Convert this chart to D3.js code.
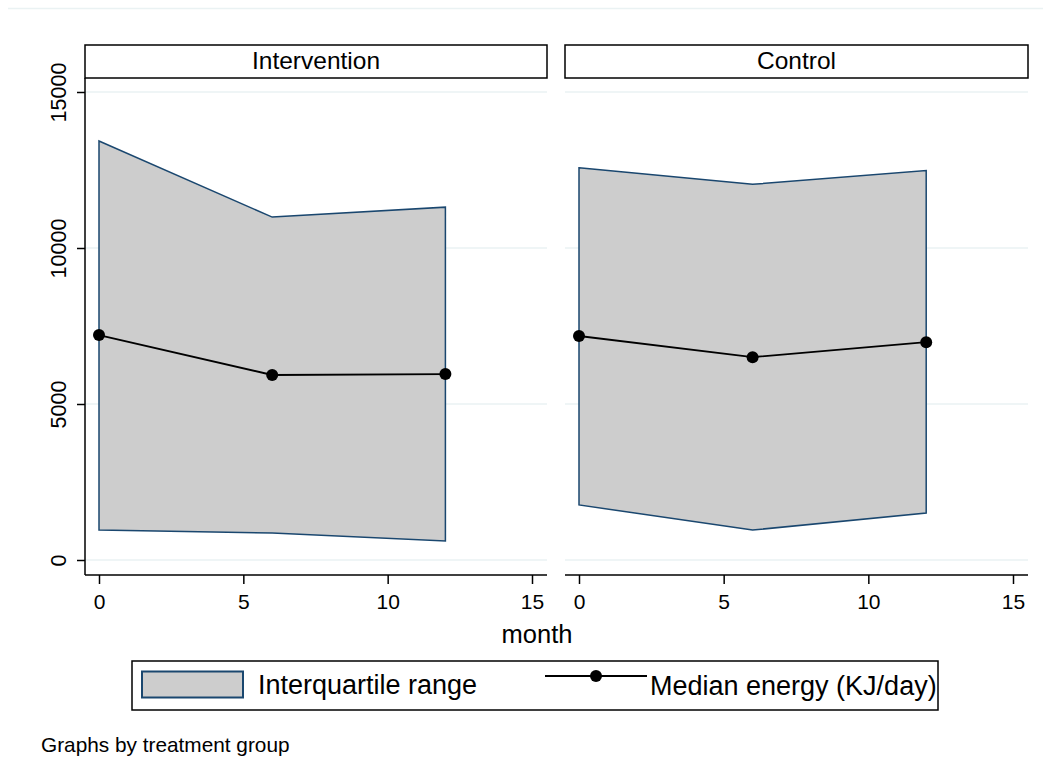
<!DOCTYPE html>
<html lang="en">
<head>
    <meta charset="UTF-8">
    <title>Energy intake by treatment group</title>
    <script src="https://d3js.org/d3.v7.min.js"></script>
    <style>
        body { margin: 0; background: #fff; }
        svg text { font-family: "Liberation Sans", Arial, Helvetica, sans-serif; fill: #000; }
    </style>
</head>
<body>
    <svg width="1051" height="771"></svg>

    <script>
        // data
        const months = [0, 6, 12];
        const groups = ["Intervention", "Control"];
        const xTicks = [0, 5, 10, 15];
        const yTicks = [0, 5000, 10000, 15000];

        const interventionP75 = [13430, 10990, 11310];
        const interventionP25 = [960, 865, 610];
        const interventionMedian = [7210, 5930, 5960];

        const controlP75 = [12570, 12040, 12480];
        const controlP25 = [1765, 960, 1505];
        const controlMedian = [7180, 6500, 6980];

        const legendLabels = ["Interquartile range", "Median energy (KJ/day)"];
        const xTitle = "month";
        const note = "Graphs by treatment group";

        const fillGrey = "#cdcdcd";
        const edgeBlue = "#1a476f";
        const gridCol = "#eaf2f3";

        const svg = d3.select("svg");

        // faint outer border line at the top
        svg.append("line")
            .attr("x1", 8).attr("x2", 1043)
            .attr("y1", 8.5).attr("y2", 8.5)
            .attr("stroke", gridCol).attr("stroke-width", 1.5);

        const y = d3.scaleLinear().domain([0, 15000]).range([560, 92]);

        const panels = [
            { name: groups[0], left: 85, right: 547, x0: 99, x15: 532,
              hi: interventionP75, lo: interventionP25, med: interventionMedian },
            { name: groups[1], left: 565, right: 1028, x0: 579, x15: 1013,
              hi: controlP75, lo: controlP25, med: controlMedian }
        ];

        panels.forEach((p, pi) => {
            const x = d3.scaleLinear().domain([0, 15]).range([p.x0, p.x15]);
            const g = svg.append("g");

            // grid lines
            g.selectAll(".grid")
                .data(yTicks)
                .enter().append("line")
                .attr("x1", p.left).attr("x2", p.right)
                .attr("y1", d => y(d)).attr("y2", d => y(d))
                .attr("stroke", gridCol).attr("stroke-width", 1.5);

            // IQR polygon
            const pts = months.map((m, i) => [x(m), y(p.hi[i])])
                .concat(months.map((m, i) => [x(m), y(p.lo[i])]).reverse());
            g.append("path")
                .attr("d", d3.line()(pts) + "Z")
                .attr("fill", fillGrey)
                .attr("stroke", edgeBlue)
                .attr("stroke-width", 1.5)
                .attr("stroke-linejoin", "miter");

            // median line + markers
            const medPts = months.map((m, i) => ({ m: m, v: p.med[i] }));
            g.append("path")
                .datum(medPts)
                .attr("fill", "none")
                .attr("stroke", "#000")
                .attr("stroke-width", 1.8)
                .attr("d", d3.line().x(d => x(d.m)).y(d => y(d.v)));
            g.selectAll(".dot")
                .data(medPts)
                .enter().append("circle")
                .attr("cx", d => x(d.m))
                .attr("cy", d => y(d.v))
                .attr("r", 6)
                .attr("fill", "#000");

            // x axis
            g.append("line")
                .attr("x1", p.left).attr("x2", p.right)
                .attr("y1", 575).attr("y2", 575)
                .attr("stroke", "#000").attr("stroke-width", 1.5);
            const xa = g.append("g")
                .attr("transform", "translate(0,575)")
                .call(d3.axisBottom(x).tickValues(xTicks).tickSize(9).tickSizeOuter(0).tickPadding(4));
            xa.select(".domain").remove();
            xa.selectAll(".tick line").attr("stroke", "#000").attr("stroke-width", 1.5);
            xa.selectAll(".tick text")
                .attr("y", 34).attr("dy", 0)
                .style("font-size", "21px")
                .style("font-family", "'Liberation Sans', Arial, sans-serif")
                .attr("fill", "#000");

            // strip header
            g.append("rect")
                .attr("x", p.left).attr("y", 45)
                .attr("width", p.right - p.left).attr("height", 33)
                .attr("fill", "#fff")
                .attr("stroke", "#000").attr("stroke-width", 1.5);
            g.append("text")
                .attr("x", (p.left + p.right) / 2)
                .attr("y", 69)
                .attr("text-anchor", "middle")
                .style("font-size", "24.5px")
                .text(p.name);

            // y axis only on the first panel
            if (pi === 0) {
                g.append("line")
                    .attr("x1", p.left).attr("x2", p.left)
                    .attr("y1", 78).attr("y2", 575)
                    .attr("stroke", "#000").attr("stroke-width", 1.5);
                const ya = g.append("g")
                    .attr("transform", `translate(${p.left},0)`)
                    .call(d3.axisLeft(y).tickValues(yTicks).tickFormat(d3.format("d"))
                        .tickSize(8).tickSizeOuter(0));
                ya.select(".domain").remove();
                ya.selectAll(".tick line").attr("stroke", "#000").attr("stroke-width", 1.5);
                ya.selectAll(".tick text")
                    .attr("x", 0).attr("y", -19).attr("dy", 0)
                    .attr("transform", "rotate(-90)")
                    .attr("text-anchor", "middle")
                    .style("font-size", "21.5px")
                    .style("font-family", "'Liberation Sans', Arial, sans-serif")
                    .attr("fill", "#000");
            }
        });

        // x title
        svg.append("text")
            .attr("x", 537).attr("y", 643)
            .attr("text-anchor", "middle")
            .style("font-size", "25.5px")
            .text(xTitle);

        // legend
        const legend = svg.append("g");
        legend.append("rect")
            .attr("x", 132).attr("y", 661)
            .attr("width", 806).attr("height", 49)
            .attr("fill", "#fff")
            .attr("stroke", "#000").attr("stroke-width", 1.5);
        legend.append("rect")
            .attr("x", 142).attr("y", 671.5)
            .attr("width", 101).attr("height", 26)
            .attr("fill", fillGrey)
            .attr("stroke", edgeBlue).attr("stroke-width", 2);
        legend.append("text")
            .attr("x", 258).attr("y", 694)
            .style("font-size", "27px")
            .text(legendLabels[0]);
        legend.append("line")
            .attr("x1", 545).attr("x2", 647)
            .attr("y1", 676).attr("y2", 676)
            .attr("stroke", "#000").attr("stroke-width", 1.8);
        legend.append("circle")
            .attr("cx", 596).attr("cy", 676).attr("r", 6)
            .attr("fill", "#000");
        legend.append("text")
            .attr("x", 650).attr("y", 695)
            .style("font-size", "27px")
            .text(legendLabels[1]);

        // note
        svg.append("text")
            .attr("x", 41).attr("y", 752)
            .style("font-size", "20.8px")
            .text(note);
    </script>
</body>
</html>
